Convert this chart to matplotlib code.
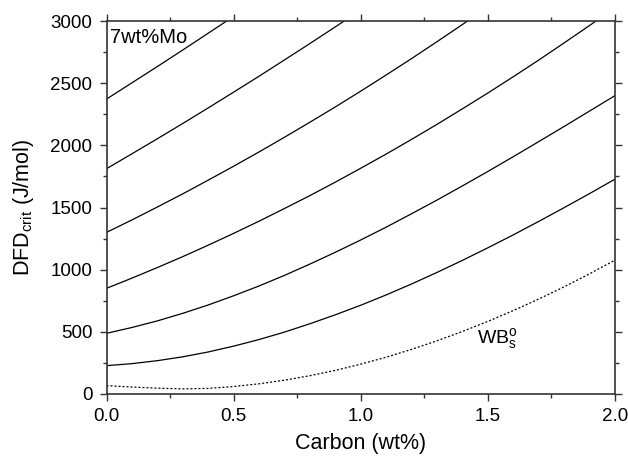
import matplotlib
matplotlib.use("Agg")
import matplotlib.pyplot as plt
from matplotlib.ticker import MultipleLocator

plt.rcParams['font.family'] = ['Liberation Sans', 'DejaVu Sans']
plt.rcParams['mathtext.fontset'] = 'custom'
plt.rcParams['mathtext.rm'] = 'Liberation Sans'
plt.rcParams['mathtext.it'] = 'Liberation Sans:italic'

# carbon content (wt%) shared by all curves
carbon = [0.0, 0.1, 0.2, 0.3, 0.4, 0.5, 0.6, 0.7, 0.8, 0.9, 1.0,
          1.1, 1.2, 1.3, 1.4, 1.5, 1.6, 1.7, 1.8, 1.9, 2.0]

# critical driving force (J/mol), top curve = 7 wt% Mo
mo_7 = [2372, 2503, 2634, 2767, 2902, 3037]
mo_6 = [1812, 1932, 2053, 2176, 2301, 2428, 2556, 2687, 2819, 2953, 3088]
mo_5 = [1300, 1400, 1504, 1610, 1720, 1832, 1947, 2065, 2186, 2309, 2436,
        2566, 2698, 2834, 2972, 3113]
mo_4 = [850, 932, 1017, 1105, 1197, 1292, 1390, 1492, 1596, 1704, 1816,
        1930, 2048, 2169, 2294, 2421, 2552, 2686, 2824, 2964, 3108]
mo_3 = [488, 535, 588, 649, 716, 790, 869, 954, 1045, 1140, 1239,
        1342, 1450, 1560, 1674, 1790, 1909, 2030, 2152, 2276, 2400]
mo_2 = [228, 244, 268, 299, 338, 385, 438, 498, 565, 637, 714,
        797, 885, 978, 1075, 1176, 1280, 1388, 1499, 1612, 1728]
wbs = [67, 56, 47, 41, 45, 60, 82, 111, 147, 190, 240,
       296, 359, 428, 503, 584, 671, 764, 862, 967, 1077]

fig = plt.figure(figsize=(6.28, 4.62), dpi=100)
ax = fig.add_axes([0.1696, 0.1472, 0.8097, 0.8073])

for curve in [mo_7, mo_6, mo_5, mo_4, mo_3, mo_2]:
    ax.plot(carbon[:len(curve)], curve, color="black", lw=0.9)
ax.plot(carbon, wbs, color="black", lw=0.9, linestyle=(0, (1.6, 1.6)))

ax.set_xlim(0, 2.0)
ax.set_ylim(0, 3000)
ax.xaxis.set_major_locator(MultipleLocator(0.5))
ax.xaxis.set_minor_locator(MultipleLocator(0.25))
ax.yaxis.set_major_locator(MultipleLocator(500))
ax.yaxis.set_minor_locator(MultipleLocator(250))
ax.tick_params(which="both", direction="out", top=True, right=True,
               labeltop=False, labelright=False, width=1.0, color="#333333")
ax.tick_params(which="major", length=5.2, labelsize=13.5, pad=5)
ax.tick_params(which="minor", length=3)
ax.xaxis.set_major_formatter(matplotlib.ticker.FormatStrFormatter("%.1f"))
for s in ax.spines.values():
    s.set_linewidth(1.2)
    s.set_color("#333333")

ax.set_xlabel("Carbon (wt%)", fontsize=15.5)
ax.set_ylabel(r"DFD$_{\mathregular{crit}}$ (J/mol)", fontsize=15.5)
ax.xaxis.set_label_coords(0.5, -0.105)
ax.yaxis.set_label_coords(-0.139, 0.5)

ax.text(0.015, 2826, "7wt%Mo", fontsize=14.5, va="baseline", ha="left")
ax.text(1.456, 408, r"WB$_{\mathregular{s}}^{\mathregular{o}}$", fontsize=14,
        va="baseline", ha="left")

fig.savefig("out.png", dpi=100)
